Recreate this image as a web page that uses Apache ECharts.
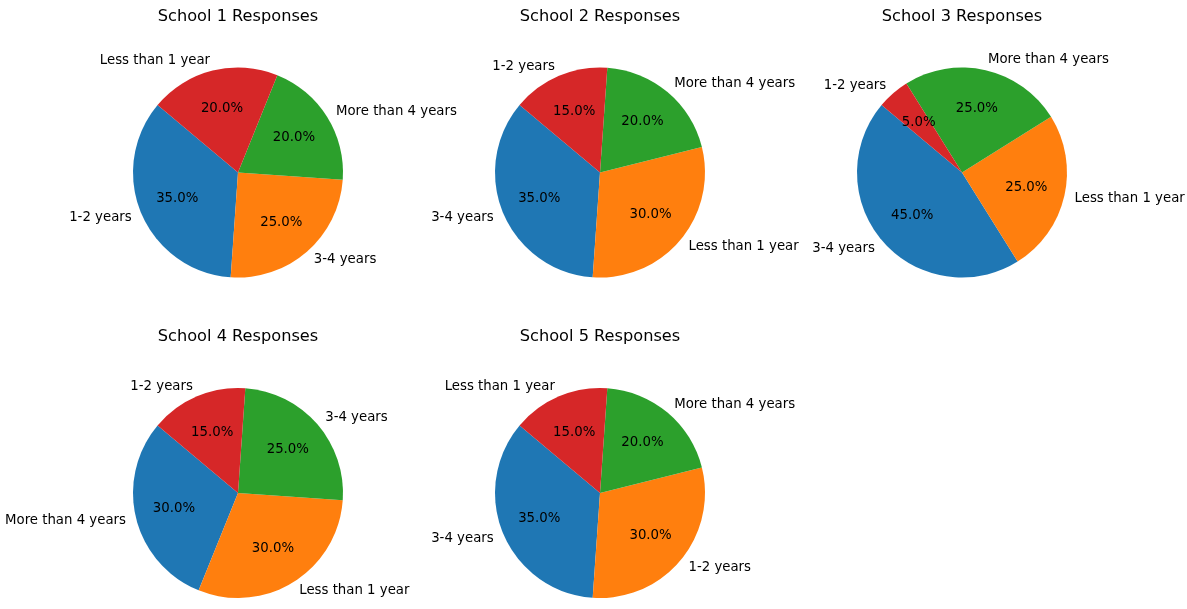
<!DOCTYPE html>
<html>
<head>
<meta charset="utf-8">
<script src="https://cdn.jsdelivr.net/npm/echarts@6/dist/echarts.min.js"></script>
<style>
  html, body { margin: 0; padding: 0; background: #fff; }
  #chart { width: 1187px; height: 609px; }
</style>
</head>
<body>
<div id="chart"></div>
<script>
// data per school, in pie order (matplotlib default colours follow this order)
const school1Labels = ["1-2 years", "3-4 years", "More than 4 years", "Less than 1 year"];
const school1Values = [35, 25, 20, 20];
const school2Labels = ["3-4 years", "Less than 1 year", "More than 4 years", "1-2 years"];
const school2Values = [35, 30, 20, 15];
const school3Labels = ["3-4 years", "Less than 1 year", "More than 4 years", "1-2 years"];
const school3Values = [45, 25, 25, 5];
const school4Labels = ["More than 4 years", "Less than 1 year", "3-4 years", "1-2 years"];
const school4Values = [30, 30, 25, 15];
const school5Labels = ["3-4 years", "1-2 years", "More than 4 years", "Less than 1 year"];
const school5Values = [35, 30, 20, 15];
const titles = ["School 1 Responses", "School 2 Responses", "School 3 Responses", "School 4 Responses", "School 5 Responses"];

const colors = ["#1f77b4", "#ff7f0e", "#2ca02c", "#d62728"];
const FONT = "DejaVu Sans";
const R = 105;

const schools = [
  { labels: school1Labels, values: school1Values, center: [238, 172.5] },
  { labels: school2Labels, values: school2Values, center: [600, 172.5] },
  { labels: school3Labels, values: school3Values, center: [962, 172.5] },
  { labels: school4Labels, values: school4Values, center: [238, 493] },
  { labels: school5Labels, values: school5Values, center: [600, 493] },
];

const series = [];
const title = [];

schools.forEach((s, i) => {
  // colour by position in the pie, not by name
  const data = s.labels.map((name, j) => ({
    name: name,
    value: s.values[j],
    itemStyle: { color: colors[j % colors.length] },
  }));

  title.push({
    text: titles[i],
    left: s.center[0],
    top: s.center[1] - 164,
    textAlign: "center",
    padding: 0,
    textStyle: { fontFamily: FONT, fontSize: 16.2, fontWeight: "normal", color: "#000" },
  });

  // coloured slices with the category names outside
  series.push({
    type: "pie",
    center: s.center,
    radius: R,
    startAngle: 140,
    clockwise: false,
    avoidLabelOverlap: false,
    silent: true,
    animation: false,
    itemStyle: { borderWidth: 0 },
    label: {
      show: true,
      position: "outside",
      distanceToLabelLine: 0,
      fontFamily: FONT,
      fontSize: 13.3,
      color: "#000",
      formatter: "{b}",
    },
    labelLine: { show: false, length: R * 0.1, length2: 0 },
    emphasis: { disabled: true },
    data: data,
  });

  // transparent ring so the percent labels sit at 0.6 of the radius
  series.push({
    type: "pie",
    center: s.center,
    radius: [R * 0.2, R],
    startAngle: 140,
    clockwise: false,
    avoidLabelOverlap: false,
    silent: true,
    animation: false,
    z: 3,
    itemStyle: { color: "rgba(0,0,0,0)", borderWidth: 0 },
    label: {
      show: true,
      position: "inside",
      fontFamily: FONT,
      fontSize: 13.3,
      color: "#000",
      formatter: (p) => p.percent.toFixed(1) + "%",
    },
    labelLine: { show: false },
    emphasis: { disabled: true },
    data: data.map((d) => ({ name: d.name, value: d.value })),
  });
});

const chart = echarts.init(document.getElementById("chart"));
chart.setOption({
  backgroundColor: "#fff",
  title: title,
  series: series,
});
</script>
</body>
</html>
